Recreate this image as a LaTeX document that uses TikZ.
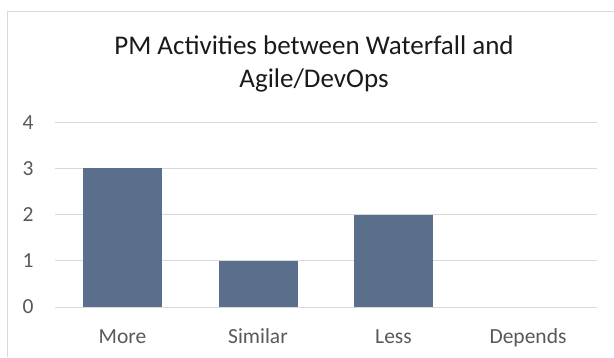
\documentclass[tikz,border=0pt]{standalone}
\usepackage{fontspec}
\setmainfont{Carlito}
\definecolor{barfill}{RGB}{90,111,140}
\definecolor{gridgray}{RGB}{217,217,217}
\definecolor{labelgray}{RGB}{89,89,89}
\definecolor{titleink}{RGB}{26,26,26}
\begin{document}
\begin{tikzpicture}[x=1pt,y=-1pt,
  gridline/.style={draw=gridgray,line width=1pt},
  bar/.style={fill=barfill,draw=none},
  ticklabel/.style={text=labelgray,font=\fontsize{21.5}{25}\selectfont,inner sep=0pt,anchor=center},
  catlabel/.style={text=labelgray,font=\fontsize{21.5}{25}\selectfont,inner sep=0pt,anchor=base},
  titletext/.style={text=titleink,font=\fontsize{27}{33}\selectfont,inner sep=0pt,anchor=base}]
  \useasboundingbox (0,0) rectangle (614,357);
  % chart frame (top and left edges)
  \draw[draw=gridgray,line width=1pt] (7.5,357) -- (7.5,11) -- (614,11);
  % title
  \node[titletext] (t1) at (314,54) {PM Activities between Waterfall and};
  \node[titletext] (t2) at (314,87) {Agile/DevOps};
  % horizontal gridlines and value labels
  \foreach \v in {0,...,4}{
    \draw[gridline] (55,307-46.2*\v) -- (597,307-46.2*\v);
    \node[ticklabel] (tick\v) at (28,307-46.2*\v) {\v};
  }
  % bars
  \foreach \name/\cx/\val in {more/122.5/3,similar/258/1,less/393.5/2}{
    \fill[bar] (\cx-39.5,307) rectangle (\cx+39.5,307-46.2*\val);
  }
  % category labels
  \node[catlabel] (cmore) at (122.5,343) {More};
  \node[catlabel] (csimilar) at (258,343) {Similar};
  \node[catlabel] (cless) at (393.5,343) {Less};
  \node[catlabel] (cdepends) at (528,343) {Depends};
\end{tikzpicture}
\end{document}
